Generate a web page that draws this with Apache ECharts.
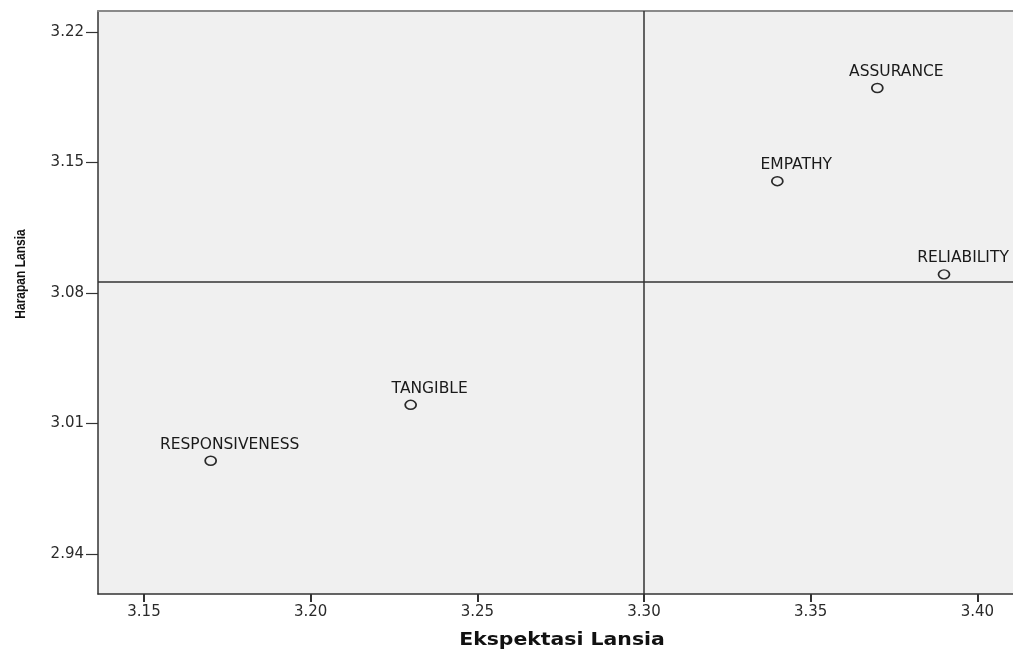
<!DOCTYPE html>
<html>
<head>
<meta charset="utf-8">
<script src="https://cdn.jsdelivr.net/npm/echarts@6/dist/echarts.min.js"></script>
<style>
html,body{margin:0;padding:0;background:#ffffff;}
#chart{width:1013px;height:654px;}
</style>
</head>
<body>
<div id="chart"></div>
<script>
// ---- data ----
var names = ['ASSURANCE', 'EMPATHY', 'RELIABILITY', 'TANGIBLE', 'RESPONSIVENESS'];
var ekspektasi = [3.37, 3.34, 3.39, 3.23, 3.17];   // x values
var harapan = [3.19, 3.14, 3.09, 3.02, 2.99];      // y values
var xTicks = [3.15, 3.20, 3.25, 3.30, 3.35, 3.40];
var yTicks = [2.94, 3.01, 3.08, 3.15, 3.22];
var xRef = 3.30;   // vertical reference line
var yRef = 3.086;  // horizontal reference line
var xRange = [3.1362, 3.4107];
var yRange = [2.9185, 3.2313];
var xTitle = 'Ekspektasi Lansia';
var yTitle = 'Harapan Lansia';

var points = names.map(function (n, i) { return [ekspektasi[i], harapan[i], n]; });

var chart = echarts.init(document.getElementById('chart'), null, {renderer: 'canvas'});
var tickFont = {fontFamily: 'DejaVu Sans', fontSize: 15, color: '#2a2a2a'};

chart.setOption({
  animation: false,
  backgroundColor: '#ffffff',
  grid: {
    left: 98, right: 0, top: 11, bottom: 60,
    show: true, backgroundColor: '#f0f0f0', borderWidth: 0
  },
  xAxis: [{
    type: 'value', min: xRange[0], max: xRange[1], position: 'bottom',
    axisLine: {show: true, onZero: false, lineStyle: {color: '#333', width: 1.5}},
    axisTick: {show: true, length: 8, customValues: xTicks, lineStyle: {color: '#333', width: 2}},
    axisLabel: Object.assign({customValues: xTicks, margin: 11,
      formatter: function (v) { return v.toFixed(2); }}, tickFont),
    splitLine: {show: false}
  }, {
    type: 'value', min: xRange[0], max: xRange[1], position: 'top',
    axisLine: {show: true, onZero: false, lineStyle: {color: '#8a8a8a', width: 2}},
    axisTick: {show: false}, axisLabel: {show: false}, splitLine: {show: false}
  }],
  yAxis: {
    type: 'value', min: yRange[0], max: yRange[1],
    axisLine: {show: true, onZero: false, lineStyle: {color: '#333', width: 1.5}},
    axisTick: {show: true, length: 12, customValues: yTicks, lineStyle: {color: '#333', width: 1.2}},
    axisLabel: Object.assign({customValues: yTicks, margin: 14,
      formatter: function (v) { return v.toFixed(2); }}, tickFont),
    splitLine: {show: false}
  },
  graphic: [
    {type: 'text', x: 562, y: 641, scaleX: 1.2, originX: 0, originY: 0,
      style: {text: xTitle, font: 'bold 17px "DejaVu Sans"', fill: '#111', x: 0, y: 0,
        align: 'center', verticalAlign: 'middle'}},
    {type: 'text', x: 21, y: 274, rotation: Math.PI / 2, scaleY: 1.25, originX: 0, originY: 0,
      style: {text: yTitle, font: 'bold 12px "Liberation Sans"', fill: '#111', x: 0, y: 0,
        align: 'center', verticalAlign: 'middle'}}
  ],
  series: [{
    type: 'scatter',
    data: points,
    symbol: 'circle',
    symbolSize: [11, 9],
    itemStyle: {color: '#f0f0f0', borderColor: '#2a2a2a', borderWidth: 1.6, opacity: 1},
    label: {
      show: true, position: 'inside', offset: [19, -16],
      formatter: function (p) { return p.data[2]; },
      fontFamily: 'DejaVu Sans', fontSize: 15.5, color: '#1a1a1a'
    },
    markLine: {
      silent: true, symbol: 'none', animation: false, precision: 4,
      label: {show: false},
      lineStyle: {color: '#333', width: 1.5, type: 'solid'},
      data: [{xAxis: xRef}, {yAxis: yRef}]
    },
    z: 5
  }]
});
</script>
</body>
</html>
